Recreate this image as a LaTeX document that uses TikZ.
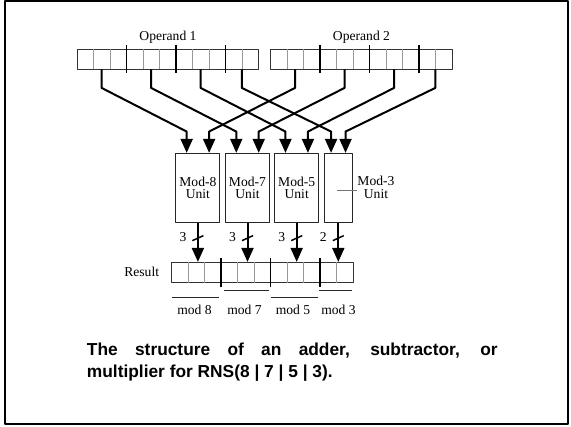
\documentclass[tikz,border=0pt]{standalone}
\usepackage{fontspec}
\setmainfont{Liberation Serif}
\newfontfamily\capfont{Liberation Sans}
\usetikzlibrary{positioning,calc,arrows.meta}

\tikzset{
  regbox/.style={draw=black!80,line width=.6pt,minimum width=136.125pt,
    minimum height=15pt,inner sep=0pt},
  cellline/.style={draw=black!40,line width=.5pt},
  divider/.style={draw=black,line width=1pt},
  unitbox/.style={draw=black!85,line width=.7pt,minimum width=33pt,
    minimum height=52pt,inner sep=0pt,align=center,font=\fontsize{10.2}{9.4}\selectfont},
  wire/.style={line width=1.5pt,->},
  slash/.style={line width=1.1pt},
  lbl/.style={inner sep=1pt,font=\fontsize{10.2}{12}\selectfont},
  leader/.style={draw=black!55,line width=.6pt},
  underl/.style={draw=black!85,line width=1pt}
}

\begin{document}
\begin{tikzpicture}[x=0.75pt,y=-0.75pt,line join=round,
    >={Triangle[length=10.5pt,width=9pt]}]
  \useasboundingbox (0,0) rectangle (571,427);
  \draw[line width=1.5pt] (5,1.5) rectangle (568.3,424);

  % registers
  \node[regbox] (op1) at (168,59) {};
  \node[regbox] (op2) at (361.5,59) {};
  \node[regbox] (res) at (262.5,272.3) {};
  \node[lbl,above=3pt of op1] (op1lbl) {Operand 1};
  \node[lbl,above=3pt of op2] (op2lbl) {Operand 2};
  \node[lbl,left=8pt of res] (reslbl) {Result};

  \foreach \r in {op1,op2,res}{
    \foreach \i in {1,...,10}
      \draw[cellline] ($(\r.north west)+(16.5*\i,0)$) -- ($(\r.south west)+(16.5*\i,0)$);
    \foreach \i in {3,6,9}
      \draw[divider] ($(\r.north west)+(16.5*\i,-3.5)$) -- ($(\r.south west)+(16.5*\i,4)$);
  }

  % residue units
  \node[unitbox] (m8) at (197.9,188) {Mod-8\\Unit};
  \node[unitbox] (m7) at (247.5,188) {Mod-7\\Unit};
  \node[unitbox] (m5) at (296.7,188) {Mod-5\\Unit};
  \node[unitbox,minimum width=21pt] (m3) at (338.3,188) {};
  \node[lbl,align=center,font=\fontsize{10.2}{9.4}\selectfont] (m3lbl) at (376,187.5) {Mod-3\\Unit};
  \draw[leader] ($(m3.center)+(-1.5,2)$) -- ($(m3.center -| m3lbl.west)+(1,2)$);

  % taps on the operands
  \coordinate (a1) at ($(op1.south west)+(24.75,0)$);
  \coordinate (a2) at ($(op1.south west)+(74.25,0)$);
  \coordinate (a3) at ($(op1.south west)+(123.75,0)$);
  \coordinate (a4) at ($(op1.south west)+(165,0)$);
  \coordinate (b1) at ($(op2.south west)+(24.75,0)$);
  \coordinate (b2) at ($(op2.south west)+(74.25,0)$);
  \coordinate (b3) at ($(op2.south west)+(123.75,0)$);
  \coordinate (b4) at ($(op2.south west)+(165,0)$);

  % unit inputs
  \foreach \u in {m8,m7,m5,m3}{
    \coordinate (\u a) at ($(\u.north west)!.25!(\u.north east)$);
    \coordinate (\u b) at ($(\u.north west)!.75!(\u.north east)$);
  }

  \draw[wire] (a1) -- ++(0,18.5) -- ($(m8a)+(0,-21.3)$) -- (m8a);
  \draw[wire] (a2) -- ++(0,18.5) -- ($(m7a)+(0,-21.3)$) -- (m7a);
  \draw[wire] (a3) -- ++(0,18.5) -- ($(m5a)+(0,-21.3)$) -- (m5a);
  \draw[wire] (a4) -- ++(0,18.5) -- ($(m3a)+(0,-21.3)$) -- (m3a);
  \draw[wire] (b1) -- ++(0,18.5) -- ($(m8b)+(0,-21.3)$) -- (m8b);
  \draw[wire] (b2) -- ++(0,18.5) -- ($(m7b)+(0,-21.3)$) -- (m7b);
  \draw[wire] (b3) -- ++(0,18.5) -- ($(m5b)+(0,-21.3)$) -- (m5b);
  \draw[wire] (b4) -- ++(0,18.5) -- ($(m3b)+(0,-21.3)$) -- (m3b);

  % outputs into the result
  \draw[wire] (m8.south) -- (m8.south |- res.north);
  \draw[wire] (m7.south) -- (m7.south |- res.north);
  \draw[wire] (m5.south) -- (m5.south |- res.north);
  \draw[wire] (m3.south) -- (m3.south |- res.north);
  \foreach \u/\w in {m8/3,m7/3,m5/3,m3/2}{
    \draw[slash] ($(\u.south)+(-5.5,17.5)$) -- ++(11,-5);
    \node[lbl] at ($(\u.south)+(-15,13.5)$) {\w};
  }

  % digit fields
  \draw[underl] (171.7,297.7) -- (219.3,297.7);
  \draw[underl] (224.3,290.7) -- (269.3,290.7);
  \draw[underl] (270.7,297.7) -- (318.3,297.7);
  \draw[underl] (319,290.7) -- (351.7,290.7);
  \node[lbl] (md8) at (194.5,310) {mod 8};
  \node[lbl] (md7) at (244.5,310) {mod 7};
  \node[lbl] (md5) at (293,310) {mod 5};
  \node[lbl] (md3) at (338.5,310) {mod 3};

  \node[anchor=north west,inner sep=0pt,text width=308pt,align=justify,
    font=\capfont\bfseries\fontsize{13}{16.3}\selectfont] (cap) at (86.7,343)
    {The structure of an adder, subtractor, or\linebreak multiplier for RNS(8 | 7 | 5 | 3).};
\end{tikzpicture}
\end{document}
